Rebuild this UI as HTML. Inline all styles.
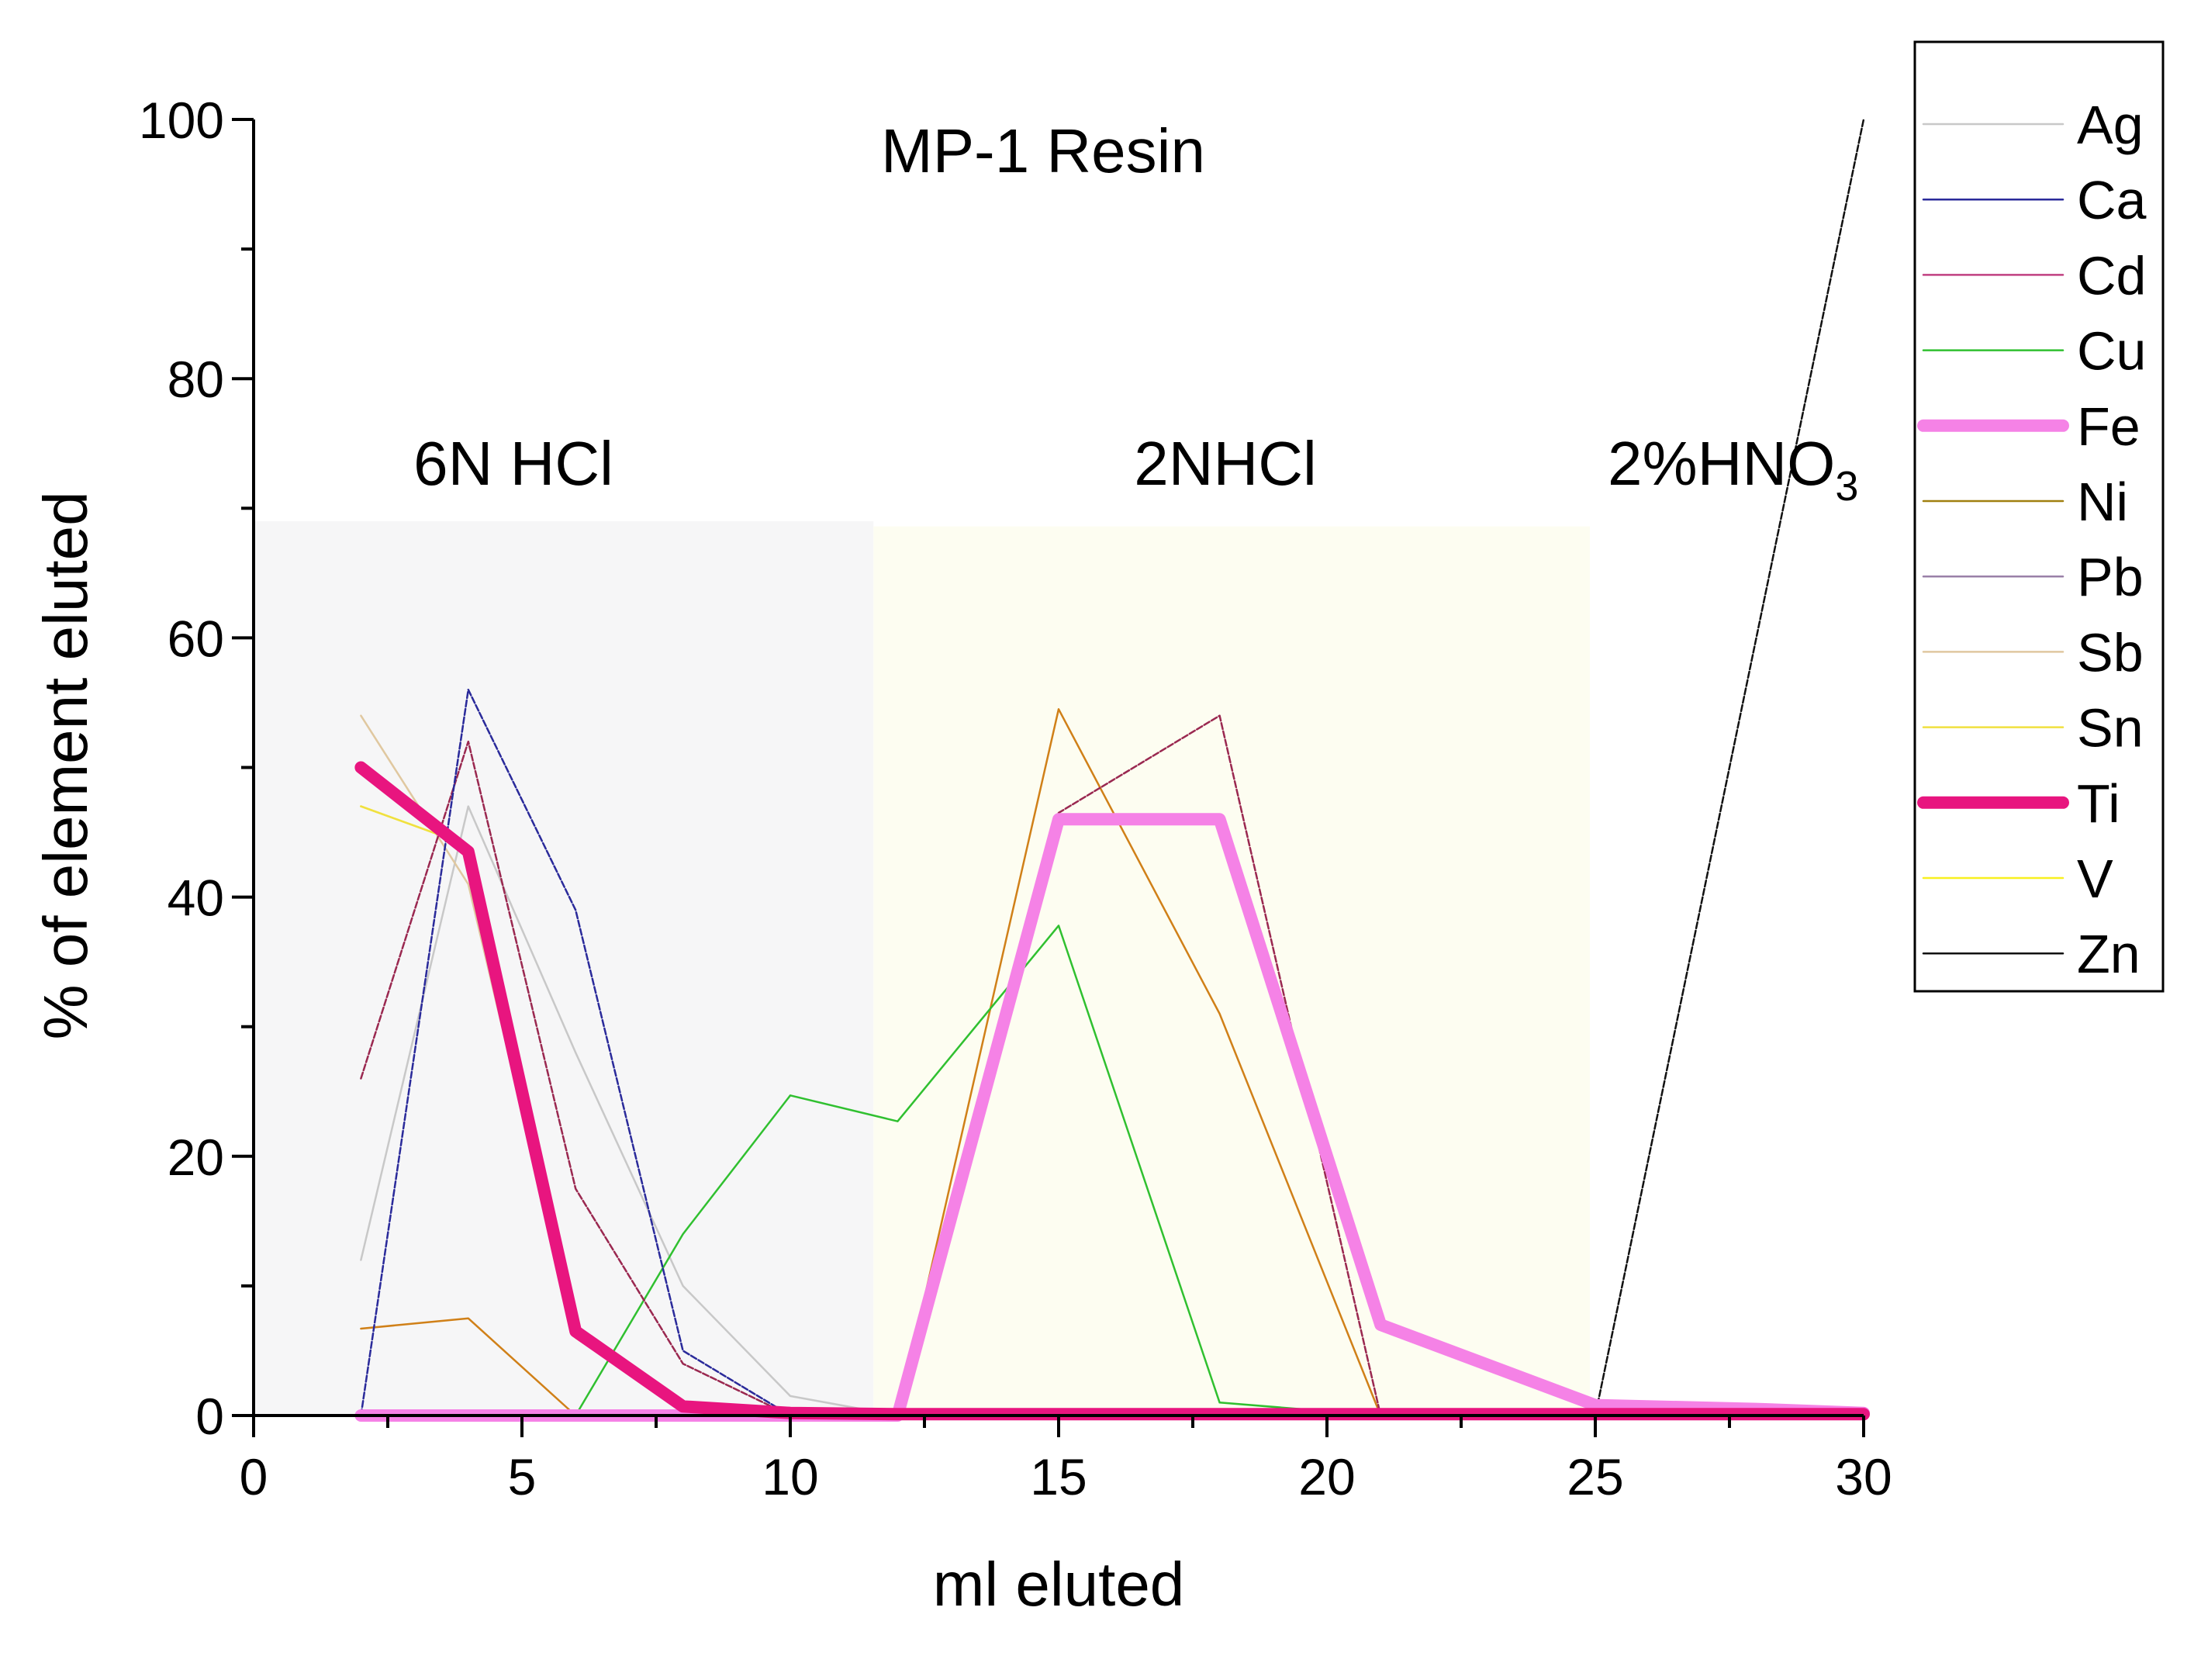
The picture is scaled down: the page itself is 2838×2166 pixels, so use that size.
<!DOCTYPE html>
<html><head><meta charset="utf-8"><style>
html,body{margin:0;padding:0;background:#fff;}
svg{display:block;font-family:"Liberation Sans",Arial,sans-serif;}
</style></head><body>
<svg id="chart" width="2838" height="2166" viewBox="0 0 2838 2166" xmlns="http://www.w3.org/2000/svg">
<rect width="2838" height="2166" fill="#fff"/>
<g id="bg"></g>
<g id="series"></g>
<g id="axes"></g>
<g id="legend"></g>
</svg>
<script>
const xs = [2,4,6,8,10,12,15,18,21,25,28,30];
const seriesNames = ["Ag","Ca","Cd","Cu","Fe","Ni","Pb","Sb","Sn","Ti","V","Zn"];
const agVals = [12,47,28,10,1.5,0,0,0,0,0,0,0];
const caVals = [0,56,39,5,0,0,0,0,0,0,0,0];
const cdVals = [26,52,17.5,4,0,0,46.5,54,0,0,0,0];
const cuVals = [0,0,0,14,24.7,22.7,37.8,1,0,0,0,0];
const feVals = [0,0,0,0,0,0,46,46,7,0.8,0.5,0.2];
const niVals = [6.7,7.5,0,0,0,0,54.5,31,0,0,0,0];
const pbVals = [0,0,0,0,0,0,0,0,0,0,0,0];
const sbVals = [54,41,6,0.5,0,0,0,0,0,0,0,0];
const snVals = [47,44,6,0.5,0,0,0,0,0,0,0,0];
const tiVals = [50,43.5,6.5,0.7,0.2,0.1,0.1,0.1,0.1,0.1,0.1,0.1];
const vVals = [47,44,6,0.5,0,0,0,0,0,0,0,0];
const znVals = [0,0,0,0,0,0,0,0,0,0,60,100];
const xTicks = [0,5,10,15,20,25,30];
const yTicks = [0,20,40,60,80,100];

const NS="http://www.w3.org/2000/svg";
const X0=327,XPU=69.2,Y0=1825,YPU=16.71;
function sx(v){return X0+v*XPU;}
function sy(v){return Y0-v*YPU;}
function mk(tag,attrs,parent,text){const e=document.createElementNS(NS,tag);for(const k in attrs)e.setAttribute(k,attrs[k]);if(text!==undefined)e.textContent=text;parent.appendChild(e);return e;}

const styles={
Ag:{c:"#c8c8c8",w:2.5,d:""},Ca:{c:"#2a2a9a",w:2.5,d:"8 3"},Cd:{c:"#9a2850",w:2.5,d:"8 3"},
Cu:{c:"#30c030",w:2.5,d:""},Fe:{c:"#f582e6",w:16,d:""},Ni:{c:"#d08018",w:2.5,d:""},
Pb:{c:"#9a80a8",w:2.5,d:""},Sb:{c:"#e0c8a0",w:2.5,d:""},Sn:{c:"#f0e040",w:2.5,d:""},
Ti:{c:"#e8157f",w:16,d:""},V:{c:"#f8f020",w:2.5,d:""},Zn:{c:"#111",w:2.5,d:"8 3"}};
const vals={Ag:agVals,Ca:caVals,Cd:cdVals,Cu:cuVals,Fe:feVals,Ni:niVals,Pb:pbVals,Sb:sbVals,Sn:snVals,Ti:tiVals,V:vVals,Zn:znVals};

const bg=document.getElementById('bg');
let r1=mk('rect',{x:sx(0),y:sy(69),width:sx(11.55)-sx(0),height:sy(0)-sy(69),fill:"#f6f6f7"},bg);


let r2=mk('rect',{x:sx(11.55),y:sy(68.6),width:sx(24.9)-sx(11.55),height:sy(0)-sy(68.6),fill:"#fdfdf1"},bg);



const sg=document.getElementById('series');
const order=["Ag","Pb","Sb","V","Sn","Ni","Cu","Cd","Ca","Zn","Fe","Ti"];
order.forEach(n=>{
  const st=styles[n];
  const pts=xs.map((x,i)=>sx(x).toFixed(1)+","+sy(vals[n][i]).toFixed(1)).join(" ");
  const pl=mk('polyline',{points:pts,fill:"none",stroke:st.c,"stroke-width":st.w,"stroke-linejoin":"round","stroke-linecap":"round"},sg);
  if(st.d)pl.setAttribute('stroke-dasharray',st.d);
  
  
});

const ax=document.getElementById('axes');
let yl=mk('line',{x1:X0,y1:sy(100),x2:X0,y2:Y0+2,stroke:"#000","stroke-width":4},ax);


let xl=mk('line',{x1:X0-2,y1:Y0,x2:sx(30),y2:Y0,stroke:"#000","stroke-width":4},ax);


for(let v=2.5;v<30;v+=5){mk('line',{x1:sx(v),y1:Y0,x2:sx(v),y2:Y0+16,stroke:"#000","stroke-width":4},ax);}
for(let v=10;v<100;v+=20){mk('line',{x1:X0,y1:sy(v),x2:X0-16,y2:sy(v),stroke:"#000","stroke-width":4},ax);}
xTicks.forEach(v=>{
  mk('line',{x1:sx(v),y1:Y0,x2:sx(v),y2:Y0+28,stroke:"#000","stroke-width":4},ax);
  const t=mk('text',{x:sx(v),y:Y0+102,"font-size":66,"text-anchor":"middle"},ax,String(v));
  
  
});
yTicks.forEach(v=>{
  mk('line',{x1:X0,y1:sy(v),x2:X0-28,y2:sy(v),stroke:"#000","stroke-width":4},ax);
  const t=mk('text',{x:X0-38,y:sy(v)+24,"font-size":66,"text-anchor":"end"},ax,String(v));
  
  
});
</script>
<script>
(function(){
const svg=document.getElementById('chart');
const NS="http://www.w3.org/2000/svg";
function tx(attrs,text){const e=document.createElementNS(NS,'text');for(const k in attrs)e.setAttribute(k,attrs[k]);e.textContent=text;svg.appendChild(e);return e;}
let t;
t=tx({x:1345,y:222,"font-size":80,"text-anchor":"middle"},"MP-1 Resin");


t=tx({x:1365,y:2070,"font-size":80,"text-anchor":"middle"},"ml eluted");


t=tx({x:0,y:0,"font-size":80,"text-anchor":"middle",transform:"translate(112,987) rotate(-90)"},"% of element eluted");


t=tx({x:662,y:625,"font-size":80,"text-anchor":"middle"},"6N HCl");


t=tx({x:1580,y:625,"font-size":80,"text-anchor":"middle"},"2NHCl");


t=tx({x:2073,y:625,"font-size":80},"2%HNO");


const sub=document.createElementNS(NS,'tspan');sub.setAttribute('font-size',54);sub.setAttribute('dy',20);sub.textContent="3";t.appendChild(sub);

const lg=document.getElementById('legend');
const box=document.createElementNS(NS,'rect');
box.setAttribute('x',2469);box.setAttribute('y',54);box.setAttribute('width',320);box.setAttribute('height',1224);
box.setAttribute('fill','#fff');box.setAttribute('stroke','#000');box.setAttribute('stroke-width',3);


lg.appendChild(box);
const names=["Ag","Ca","Cd","Cu","Fe","Ni","Pb","Sb","Sn","Ti","V","Zn"];
const cols={Ag:"#c8c8c8",Ca:"#2a2a9a",Cd:"#c04080",Cu:"#30c030",Fe:"#f582e6",Ni:"#a08010",Pb:"#9a80a8",Sb:"#e0c8a0",Sn:"#f0e040",Ti:"#e8157f",V:"#f8f020",Zn:"#111"};
names.forEach((n,i)=>{
  const y=160+i*97.2;
  const g=document.createElementNS(NS,'g');
  
  
  const l=document.createElementNS(NS,'line');
  l.setAttribute('x1',2480);l.setAttribute('x2',2660);l.setAttribute('y1',y);l.setAttribute('y2',y);
  l.setAttribute('stroke',cols[n]);l.setAttribute('stroke-width',(n==="Fe"||n==="Ti")?16:2.5);l.setAttribute('stroke-linecap','round');
  g.appendChild(l);
  const te=document.createElementNS(NS,'text');
  te.setAttribute('x',2678);te.setAttribute('y',y+25);te.setAttribute('font-size',70);te.textContent=n;
  g.appendChild(te);
  lg.appendChild(g);
});
})();
</script>
</body></html>
